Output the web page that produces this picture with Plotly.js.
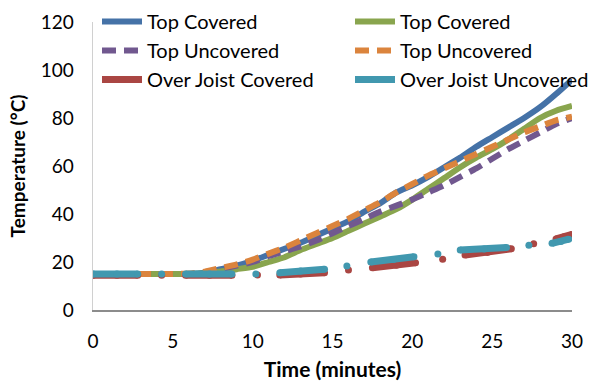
<!DOCTYPE html>
<html>
<head>
<meta charset="utf-8">
<script src="https://cdn.plot.ly/plotly-3.0.1.min.js"></script>
<style>html,body{margin:0;padding:0;background:#fff;}#chart{width:592px;height:385px;}</style>
</head>
<body>
<div id="chart"></div>
<script>
// Time axis (minutes) for the smooth "Top" curves
const timeTop = [0,1,2,3,4,5,6,7,8,9,10,11,12,13,14,15,16,17,18,19,20,21,22,23,24,25,26,27,28,29,30];
const topCoveredA   = [15,15,15,15,15,15,15,15.5,17,18.5,20.5,23,25.5,28,31,34,37,41,44.5,49,52,55.5,59.5,63.5,68,72,76,80,84.5,90,96];
const topCoveredB   = [15,15,15,15,15,15,15,15.3,16,17,18,20,22,25,27.5,30,33,36,39,42,46,50.5,55,59.5,63.5,67,71,75.5,80,83,85];
const topUncoveredA = [15,15,15,15,15,15,15,15.5,17,18.5,20,22.5,24.5,26.5,29,32,35,38,41,43.5,46,49,52,55.5,59,63,67,70.5,74,77.5,80];
const topUncoveredB = [15,15,15,15,15,15,15.2,16,17.5,19,21,23.5,26,29,32,35,38,41.5,45,49,52.5,56,59,62,65,68,71,74,76.5,79,80.5];

// Over-joist series (segments separated by gaps = null)
const timeJoistCov = [0,1.5,2.8,3.5,4.3,5,5.8,7.3,8.7,9.5,10.3,11,11.7,13,14.5,15.2,16,16.8,17.5,19,20.2,21,21.9,22.6,23.3,24.7,26.2,26.9,27.6,28.3,29,29.5,30];
const joistCovered = [14.5,14.5,14.5,null,14.5,null,14.5,14.5,14.5,null,14.6,null,14.6,15,15.5,null,16.7,null,17.6,18.6,19.7,null,21.1,null,22.9,24,25.5,null,27.6,null,29.6,30.5,31.5];
const timeJoistUnc = [0,1.5,2.8,3.5,4.3,5,5.8,7.3,8.7,9.5,10.2,11,11.7,13,14.5,15.2,15.9,16.6,17.4,18.8,20.1,20.9,21.6,22.3,23,24.5,25.9,26.6,27.3,28,28.75,29.3,29.8];
const joistUncovered = [15,15,15,null,15,null,15,15,15,null,15,null,15.5,16.2,17,null,18.3,null,20,21,22.2,null,23.3,null,25,25.4,26,null,27,null,27.8,28.5,29.5];

const xTicks = [0,5,10,15,20,25,30];
const yTicks = [0,20,40,60,80,100,120];

const LW = 6;
const dashPat = "14px,8px";

function lineTrace(x, y, name, color, dash, legend, grp) {
  return {
    x: x, y: y, name: name, type: 'scatter', mode: 'lines',
    line: {color: color, width: LW, dash: dash || 'solid', shape: 'spline', smoothing: 0.6},
    legend: legend, legendgroup: grp, hoverinfo: 'skip'
  };
}
function joistTrace(x, y, name, color, legend, grp) {
  return {
    x: x, y: y, name: name, type: 'scatter', mode: 'lines+markers',
    line: {color: color, width: 7},
    marker: {color: color, size: 7, line: {width: 0}},
    legend: legend, legendgroup: grp, hoverinfo: 'skip'
  };
}

const traces = [
  lineTrace(timeTop, topCoveredA, 'Top Covered', '#4572A7', 'solid', 'legend', 'a'),
  lineTrace(timeTop, topCoveredB, 'Top Covered', '#89A54E', 'solid', 'legend2', 'b'),
  lineTrace(timeTop, topUncoveredA, 'Top Uncovered', '#71588F', dashPat, 'legend', 'c'),
  lineTrace(timeTop, topUncoveredB, 'Top Uncovered', '#DB843D', dashPat, 'legend2', 'd'),
  joistTrace(timeJoistCov, joistCovered, 'Over Joist Covered', '#AA4643', 'legend', 'e'),
  joistTrace(timeJoistUnc, joistUncovered, 'Over Joist Uncovered', '#4198AF', 'legend2', 'f')
];

const FONT = 'Lato, "Open Sans", sans-serif';
// plot area: x 93..572, y 22..310
const legendCommon = {
  orientation: 'v', xref: 'paper', yref: 'paper',
  xanchor: 'left', yanchor: 'top', y: (310 - 2) / 288,
  bgcolor: 'rgba(0,0,0,0)', borderwidth: 0,
  font: {family: FONT, size: 20, color: '#000'},
  itemwidth: 40, tracegroupgap: 4, traceorder: 'normal'
};

const layout = {
  width: 592, height: 385,
  margin: {l: 93, r: 20, t: 22, b: 75, autoexpand: false},
  paper_bgcolor: '#fff', plot_bgcolor: '#fff',
  font: {family: FONT, size: 19, color: '#000'},
  showlegend: true,
  legend: Object.assign({}, legendCommon, {x: (97 - 93) / 479}),
  legend2: Object.assign({}, legendCommon, {x: (350 - 93) / 479}),
  xaxis: {
    range: [0, 30], tickvals: xTicks, ticktext: xTicks.map(String),
    showgrid: false, zeroline: false, showline: true, linecolor: '#8c8c8c', linewidth: 1.5,
    ticks: '', ticklabelstandoff: 14, tickfont: {family: FONT, size: 19, color: '#000'},
    title: {text: '<b>Time (minutes)</b>', font: {family: FONT, size: 21, color: '#000'}, standoff: 11},
    fixedrange: true
  },
  yaxis: {
    range: [0, 120], tickvals: yTicks, ticktext: yTicks.map(String),
    showgrid: false, zeroline: false, showline: true, linecolor: '#d0d0d0', linewidth: 1.5,
    ticks: '', ticklabelstandoff: 14, tickfont: {family: FONT, size: 19, color: '#000'},
    title: {text: '<b>Temperature (°C)</b>', font: {family: FONT, size: 19, color: '#000'}, standoff: 10},
    fixedrange: true
  }
};

Plotly.newPlot('chart', traces, layout, {displayModeBar: false, staticPlot: true});
</script>
</body>
</html>
